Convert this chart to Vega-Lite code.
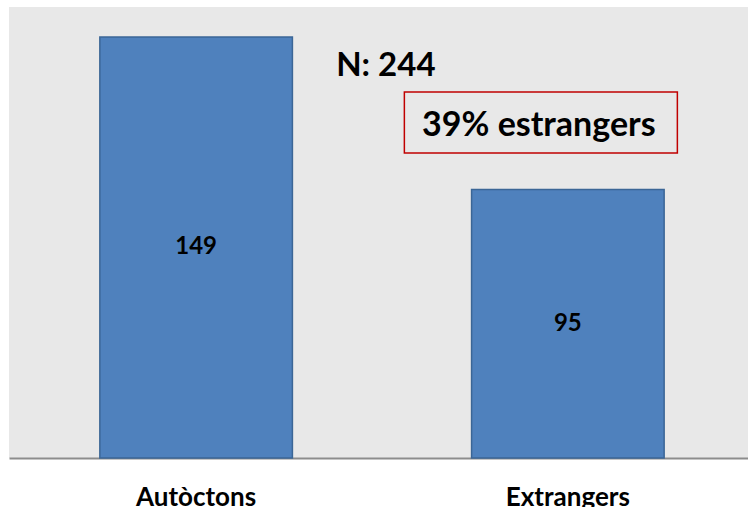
{
  "$schema": "https://vega.github.io/schema/vega-lite/v6.json",
  "width": 739,
  "height": 451,
  "autosize": {"type": "none"},
  "padding": {"left": 9, "top": 7, "right": 0, "bottom": 49},
  "background": "white",
  "config": {
    "view": {"fill": "#e8e8e8", "stroke": null},
    "font": "Lato"
  },
  "datasets": {
    "bars": [
      {"group": "Autòctons", "n": 149},
      {"group": "Extrangers", "n": 95}
    ],
    "notes": [
      {"group": "Extrangers", "label": "N: 244", "y": 138.7}
    ],
    "box": [
      {"group": "Extrangers", "label": "39% estrangers", "ytop": 129.5, "ybot": 107.9, "ymid": 117.6}
    ]
  },
  "layer": [
    {
      "data": {"name": "bars"},
      "mark": {"type": "bar", "color": "#4f81bd", "stroke": "#3b6696", "strokeWidth": 1.5},
      "encoding": {
        "x": {
          "field": "group", "type": "nominal", "sort": null,
          "scale": {"paddingInner": 0.482, "paddingOuter": 0.235, "align": 0.52},
          "axis": {
            "title": null, "labelAngle": 0, "labelFont": "Lato", "labelFontSize": 26,
            "labelFontWeight": "bold", "labelColor": "black", "labelPadding": 26,
            "ticks": false, "domainColor": "#8c8c8c", "domainWidth": 2
          }
        },
        "y": {
          "field": "n", "type": "quantitative",
          "scale": {"domain": [0, 159.6], "nice": false, "zero": true},
          "axis": null
        }
      }
    },
    {
      "data": {"name": "bars"},
      "transform": [{"calculate": "datum.n / 2", "as": "mid"}],
      "mark": {"type": "text", "font": "Lato", "fontSize": 24, "fontWeight": "bold", "color": "black", "baseline": "middle"},
      "encoding": {
        "x": {"field": "group", "type": "nominal", "sort": null},
        "y": {"field": "mid", "type": "quantitative"},
        "text": {"field": "n", "type": "quantitative"}
      }
    },
    {
      "data": {"name": "notes"},
      "mark": {"type": "text", "font": "Lato", "fontSize": 33, "fontWeight": "bold", "color": "black", "baseline": "middle", "dx": -182},
      "encoding": {
        "x": {"field": "group", "type": "nominal", "sort": null},
        "y": {"field": "y", "type": "quantitative"},
        "text": {"field": "label"}
      }
    },
    {
      "data": {"name": "box"},
      "mark": {"type": "bar", "fill": null, "fillOpacity": 0, "stroke": "#c00000", "strokeWidth": 1.5, "width": 273, "xOffset": -27},
      "encoding": {
        "x": {"field": "group", "type": "nominal", "sort": null},
        "y": {"field": "ytop", "type": "quantitative"},
        "y2": {"field": "ybot"}
      }
    },
    {
      "data": {"name": "box"},
      "mark": {"type": "text", "font": "Lato", "fontSize": 34, "fontWeight": "bold", "color": "black", "baseline": "middle", "dx": -29},
      "encoding": {
        "x": {"field": "group", "type": "nominal", "sort": null},
        "y": {"field": "ymid", "type": "quantitative"},
        "text": {"field": "label"}
      }
    }
  ]
}
